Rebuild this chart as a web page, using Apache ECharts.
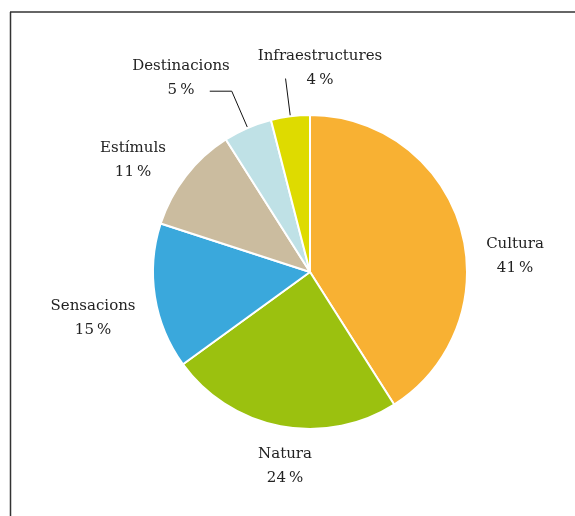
<!DOCTYPE html>
<html>
<head>
<meta charset="utf-8">
<script src="https://cdn.jsdelivr.net/npm/echarts@6/dist/echarts.min.js"></script>
<style>
html,body{margin:0;padding:0;background:#fff;}
#chart{width:575px;height:516px;}
</style>
</head>
<body>
<div id="chart"></div>
<script>
var categories = ['Cultura', 'Natura', 'Sensacions', 'Estímuls', 'Destinacions', 'Infraestructures'];
var values = [41, 24, 15, 11, 5, 4];
var colors = ['#F8B133', '#9BC10F', '#3AA8DC', '#CBBC9F', '#BFE1E6', '#DEDB00'];
var showLine = [false, false, false, false, true, true];
var lineLen = [20, 20, 20, 20, 40, 38];
var lineLen2 = [10, 10, 10, 10, 22, 0];
// label centre positions (style)
var labelPos = [[515, 256], [285, 466], [93, 318], [133, 160], [181, 78], [320, 68]];

var chart = echarts.init(document.getElementById('chart'));
var data = categories.map(function (c, i) {
  return {
    name: c,
    value: values[i],
    itemStyle: { color: colors[i] },
    labelLine: { show: showLine[i], length: lineLen[i], length2: lineLen2[i] }
  };
});

chart.setOption({
  animation: false,
  graphic: [
    { type: 'line', shape: { x1: 10.5, y1: 12, x2: 10.5, y2: 516 }, style: { stroke: '#333', lineWidth: 1.5 } },
    { type: 'line', shape: { x1: 10, y1: 12, x2: 575, y2: 12 }, style: { stroke: '#333', lineWidth: 1.5 } }
  ],
  series: [{
    type: 'pie',
    center: [310, 272],
    radius: 157,
    startAngle: 90,
    clockwise: true,
    avoidLabelOverlap: false,
    data: data,
    itemStyle: { borderColor: '#fff', borderWidth: 2 },
    label: {
      show: true,
      position: 'outside',
      formatter: '{b}\n{d}\u2009%',
      fontFamily: 'DejaVu Serif',
      fontSize: 15,
      lineHeight: 24,
      color: '#222',
      align: 'center',
      overflow: 'none'
    },
    labelLine: {
      lineStyle: { color: '#111', width: 1 }
    },
    labelLayout: function (p) {
      var pos = labelPos[p.dataIndex];
      return {
        x: pos[0],
        y: pos[1],
        align: 'center',
        verticalAlign: 'middle',
        labelLinePoints: p.labelLinePoints
      };
    }
  }]
});
</script>
</body>
</html>
